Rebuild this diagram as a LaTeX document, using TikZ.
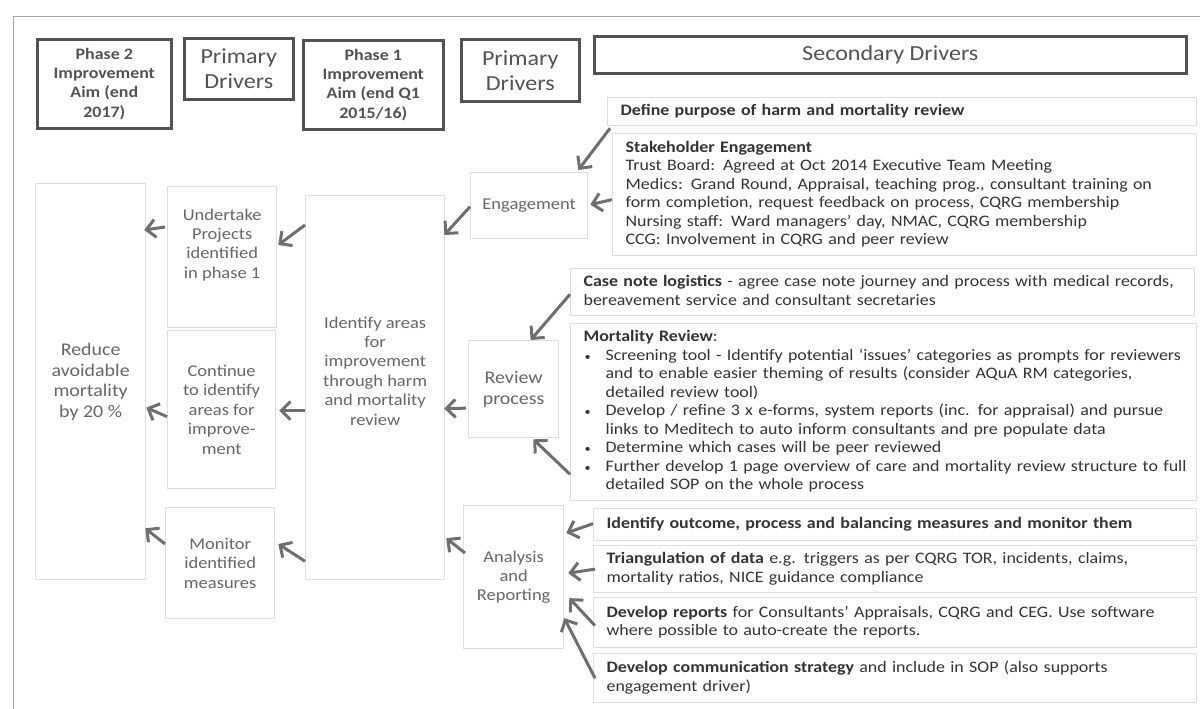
\documentclass[tikz,border=0pt]{standalone}
\usepackage{fontspec}
\setmainfont{Carlito}[FakeStretch=1.12]
\usetikzlibrary{arrows.meta}
\newcommand{\secfont}{\fontsize{16}{18.5}\selectfont}
\newcommand{\drvfont}{\fontsize{16.5}{19.4}\selectfont}
\newcommand{\bigdrvfont}{\fontsize{17.8}{20.5}\selectfont}
\newcommand{\aimfont}{\fontsize{16}{19.4}\selectfont\bfseries}
\newcommand{\hdrfont}{\fontsize{21.5}{25}\selectfont}
\newcommand{\seclines}[1]{\noindent\begin{tabular}{@{}l@{}}#1\end{tabular}}
\newcommand{\bul}{\makebox[22pt][l]{\hspace*{1pt}{\fontsize{11}{11}\selectfont\textbullet}}}
\newcommand{\ind}{\hspace*{22pt}}

\begin{document}
\begin{tikzpicture}[x=1pt, y=-1pt,
    hdr/.style={draw=black!68, line width=2.6pt, text=black!68, align=center,
                anchor=north west, inner sep=0pt},
    drv/.style={draw=black!13, line width=1.3pt, text=black!60, align=center,
                anchor=north west, inner sep=0pt, font=\drvfont},
    sec/.style={draw=black!13, line width=1.3pt, text=black!80, align=left,
                anchor=north west, inner xsep=13pt, inner ysep=0pt, font=\secfont},
    arrow/.style={-{Straight Barb[length=9pt,width=18pt]}, draw=black!57, line width=3pt}
]
    \useasboundingbox (0,0) rectangle (1200,709);
    \draw[black!35, line width=1pt] (13,709) -- (13,17) -- (1200,17);

    \node[hdr, font=\aimfont, minimum width=134pt, minimum height=89pt] (aimtwo) at (36,38)
        {Phase 2\\Improvement\\Aim (end\\2017)};
    \node[hdr, font=\hdrfont, minimum width=109pt, minimum height=61pt] (pdone) at (183,37)
        {Primary\\Drivers};
    \node[hdr, font=\aimfont, minimum width=140pt, minimum height=89pt] (aimone) at (302,39)
        {Phase 1\\Improvement\\Aim (end Q1\\2015/16)};
    \node[hdr, font=\hdrfont, minimum width=118pt, minimum height=62pt] (pdtwo) at (460,38)
        {Primary\\Drivers};
    \node[hdr, font=\hdrfont, minimum width=592pt, minimum height=37pt] (secdrv) at (593,35)
        {Secondary Drivers};

    \node[drv, font=\bigdrvfont, minimum width=110pt, minimum height=396pt] (reduce) at (35,183)
        {Reduce\\avoidable\\mortality\\by 20 \%};
    \node[drv, minimum width=109pt, minimum height=141pt] (undertake) at (167,186)
        {Undertake\\Projects\\identified\\in phase 1\\[8pt]};
    \node[drv, minimum width=108pt, minimum height=158pt] (contin) at (167,330)
        {Continue\\to identify\\areas for\\improve-\\ment};
    \node[drv, minimum width=109pt, minimum height=111pt] (monitor) at (165,507)
        {Monitor\\identified\\measures};
    \node[drv, minimum width=139pt, minimum height=384pt] (identify) at (305,195)
        {Identify areas\\for\\improvement\\through harm\\and mortality\\review\\[14pt]};
    \node[drv, minimum width=117pt, minimum height=66pt] (engage) at (470,172)
        {Engagement};
    \node[drv, font=\bigdrvfont, minimum width=90pt, minimum height=97pt] (review) at (468,340)
        {Review\\process};
    \node[drv, minimum width=100pt, minimum height=143pt] (analysis) at (463,505)
        {Analysis\\and\\Reporting};

    \node[sec, minimum width=589pt, minimum height=28pt, text width=563pt] (defpurp) at (607,97)
        {\seclines{\textbf{Define purpose of harm and mortality review}}};
    \node[sec, minimum width=584pt, minimum height=122pt, text width=558pt] (stake) at (612,133)
        {\seclines{\textbf{Stakeholder Engagement}\\
        Trust Board: Agreed at Oct 2014 Executive Team Meeting\\
        Medics: Grand Round, Appraisal, teaching prog., consultant training on\\
        form completion, request feedback on process, CQRG membership\\
        Nursing staff: Ward managers' day, NMAC, CQRG membership\\
        CCG: Involvement in CQRG and peer review}};
    \node[sec, minimum width=624pt, minimum height=47pt, text width=598pt] (casen) at (570,268)
        {\seclines{\textbf{Case note logistics} - agree case note journey and process with medical records,\\
        bereavement service and consultant secretaries}};
    \node[sec, minimum width=626pt, minimum height=177pt, text width=600pt] (mortrev) at (570,323)
        {\seclines{\textbf{Mortality Review}:\\
        \bul Screening tool - Identify potential `issues' categories as prompts for reviewers\\
        \ind and to enable easier theming of results (consider AQuA RM categories,\\
        \ind detailed review tool)\\
        \bul Develop / refine 3 x e-forms, system reports (inc. for appraisal) and pursue\\
        \ind links to Meditech to auto inform consultants and pre populate data\\
        \bul Determine which cases will be peer reviewed\\
        \bul Further develop 1 page overview of care and mortality review structure to full\\
        \ind detailed SOP on the whole process}};
    \node[sec, minimum width=603pt, minimum height=32pt, text width=577pt] (outcome) at (593,508)
        {\seclines{\textbf{Identify outcome, process and balancing measures and monitor them}}};
    \node[sec, minimum width=603pt, minimum height=47pt, text width=577pt] (triang) at (593,545)
        {\seclines{\textbf{Triangulation of data} e.g. triggers as per CQRG TOR, incidents, claims,\\
        mortality ratios, NICE guidance compliance}};
    \node[sec, minimum width=603pt, minimum height=50pt, text width=577pt] (reports) at (593,597)
        {\seclines{\textbf{Develop reports} for Consultants' Appraisals, CQRG and CEG. Use software\\
        where possible to auto-create the reports.}};
    \node[sec, minimum width=603pt, minimum height=49pt, text width=577pt] (comms) at (593,653)
        {\seclines{\textbf{Develop communication strategy} and include in SOP (also supports\\
        engagement driver)}};

    \draw[arrow] ([shift={(3,2)}]defpurp.south west) -- ([shift={(-10,-2)}]engage.north east);
    \draw[arrow] ([shift={(0,5)}]stake.west) -- ([shift={(2,-1)}]engage.east);
    \draw[arrow] ([shift={(0,1)}]engage.west) -- ([shift={(-1,40)}]identify.north east);
    \draw[arrow] ([shift={(0,30)}]identify.north west) -- ([shift={(1,59)}]undertake.north east);
    \draw[arrow] ([shift={(-2,41)}]undertake.north west) -- ([shift={(-2,47)}]reduce.north east);
    \draw[arrow] ([shift={(0,-22)}]casen.south west) -- ([shift={(17,0)}]review.north);
    \draw[arrow] ([shift={(0,-27)}]mortrev.south west) -- ([shift={(-26,1)}]review.south east);
    \draw[arrow] ([shift={(-2,19)}]review.west) -- ([shift={(-1,21)}]identify.east);
    \draw[arrow] ([shift={(0,23)}]identify.west) -- ([shift={(3,1)}]contin.east);
    \draw[arrow] ([shift={(0,7)}]contin.west) -- ([shift={(0,26)}]reduce.east);
    \draw[arrow] ([shift={(2,48)}]analysis.north west) -- ([shift={(1,-42)}]identify.south east);
    \draw[arrow] ([shift={(0,-19)}]identify.south west) -- ([shift={(3,37)}]monitor.north east);
    \draw[arrow] ([shift={(0,37)}]monitor.north west) -- ([shift={(-1,-52)}]reduce.south east);
    \draw[arrow] ([shift={(0,-1)}]outcome.west) -- ([shift={(2,28)}]analysis.north east);
    \draw[arrow] ([shift={(2,0)}]triang.west) -- ([shift={(4,-4)}]analysis.east);
    \draw[arrow] ([shift={(2,3)}]reports.west) -- ([shift={(5,21)}]analysis.east);
    \draw[arrow] ([shift={(2,0)}]comms.west) -- ([shift={(0,41)}]analysis.east);
\end{tikzpicture}
\end{document}
